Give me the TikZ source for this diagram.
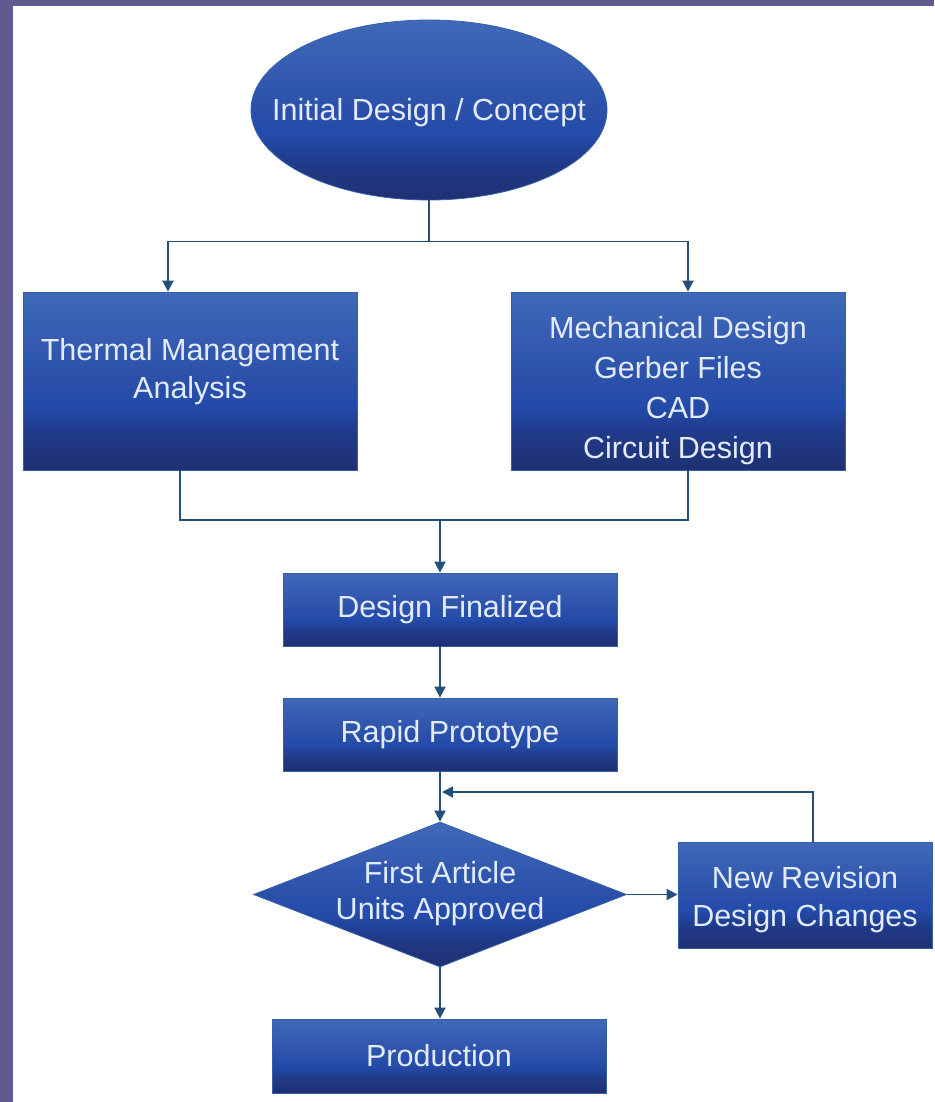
\documentclass[tikz,border=0pt]{standalone}
\usepackage{fontspec}
\setmainfont{Liberation Sans}
\usetikzlibrary{shapes.geometric,arrows.meta,calc}
\definecolor{framec}{HTML}{5F5B8F}
\definecolor{topb}{HTML}{4069B8}
\definecolor{midb}{HTML}{2A50AA}
\definecolor{bandb}{HTML}{234BAA}
\definecolor{dkb}{HTML}{203A88}
\definecolor{botb}{HTML}{1F3072}
\definecolor{linec}{HTML}{22507A}
\definecolor{txtc}{HTML}{E3EBFA}
\definecolor{edgec}{HTML}{3560A8}
\pgfdeclareverticalshading{boxshade}{100bp}{color(0bp)=(botb); color(25bp)=(botb); color(35bp)=(dkb); color(43bp)=(bandb); color(50bp)=(midb); color(75bp)=(topb); color(100bp)=(topb)}
\tikzset{
  lbl/.style={font=\fontsize{30.5}{38}\selectfont, text=txtc, align=center, inner sep=0pt},
  box/.style={rectangle, shading=boxshade, draw=edgec, line width=0.8pt, lbl},
  ell/.style={ellipse, shading=boxshade, draw=edgec, line width=0.8pt, inner sep=0pt, minimum width=356pt, minimum height=180pt},
  dia/.style={diamond, shading=boxshade, draw=edgec, line width=0.8pt, inner sep=0pt, minimum width=373pt, minimum height=145pt},
  conn/.style={draw=linec, line width=1.8pt},
  arr/.style={conn, -{Triangle[length=11pt,width=11pt]}}
}
\begin{document}
\begin{tikzpicture}[x=1pt,y=-1pt]
\fill[framec] (0,0) rectangle (934,1102);
\fill[white] (13,6) rectangle (934,1102);
\useasboundingbox (0,0) rectangle (934,1102);

\node[ell] (init) at (429,110) {};
\node[lbl, yshift=-3pt] (initt) at (init.center) {Initial Design / Concept};

\node[box, minimum width=334pt, minimum height=178pt] (therm) at (190,381) {};
\node[lbl, yshift=9pt] (thermt) at (therm.center) {Thermal Management\\Analysis};
\node[box, minimum width=334pt, minimum height=178pt] (mech) at (678,381) {};
\node[lbl, yshift=-10pt, font=\fontsize{30.5}{40}\selectfont] (mecht) at (mech.center) {Mechanical Design\\Gerber Files\\CAD\\Circuit Design};

\node[box, minimum width=334pt, minimum height=73pt] (final) at (450,609.5) {Design Finalized};
\node[box, minimum width=334pt, minimum height=73pt] (proto) at (450,734.5) {Rapid Prototype};

\node[dia] (dec) at (440,894.5) {};
\node[lbl, yshift=1pt, font=\fontsize{30.5}{36}\selectfont] (dect) at (dec.center) {First Article\\Units Approved};

\node[box, minimum width=254pt, minimum height=106pt] (rev) at (805,895) {};
\node[lbl, yshift=-5pt] (revt) at (rev.center) {New Revision\\Design Changes};
\node[box, minimum width=334pt, minimum height=74pt] (prod) at (439,1056) {Production};

% connectors
\draw[arr] (init.south) -- ++(0,41) -| ([xshift=-22pt]therm.north);
\draw[arr] (init.south) -- ++(0,41) -| ([xshift=10pt]mech.north);

\coordinate (mj) at (440,520);
\draw[conn] ([xshift=-10pt]therm.south) |- (mj) -| ([xshift=10pt]mech.south);
\draw[arr] (mj) -- (final.north -| mj);
\draw[arr] (final.south -| mj) -- (proto.north -| mj);
\draw[arr] (proto.south -| mj) -- (dec.north);

\coordinate (fb) at (442,792);
\draw[arr] ([xshift=8pt]rev.north) |- (fb);
\draw[arr] (dec.east) -- (dec.east -| rev.west);
\draw[arr] (dec.south) -- (dec.south |- prod.north);
\end{tikzpicture}
\end{document}
